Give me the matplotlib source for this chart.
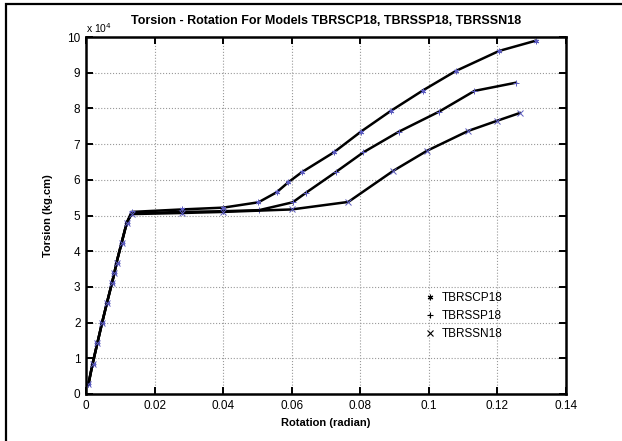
import matplotlib
matplotlib.use('Agg')
import matplotlib.pyplot as plt
from matplotlib.patches import Rectangle

plt.rcParams['font.family'] = ['Liberation Sans', 'DejaVu Sans']

# shared elastic branch (rotation in radian, torsion in 1e4 kg.cm)
rot_el = [0.0007, 0.0019, 0.0033, 0.0047, 0.0061, 0.0076, 0.0083, 0.0089, 0.0104, 0.0119]
tor_el = [0.27, 0.84, 1.42, 2.0, 2.55, 3.12, 3.40, 3.68, 4.24, 4.80]

rot_cp = rot_el + [0.0133, 0.028, 0.040, 0.0503, 0.0556, 0.059, 0.0629, 0.0723, 0.0802,
                   0.0889, 0.0982, 0.1079, 0.1205, 0.1313]
tor_cp = tor_el + [5.10, 5.17, 5.22, 5.37, 5.65, 5.93, 6.21, 6.77, 7.35,
                   7.93, 8.50, 9.05, 9.61, 9.90]

rot_sp = rot_el + [0.0133, 0.028, 0.040, 0.0505, 0.0603, 0.0642, 0.0729, 0.0809, 0.0913,
                   0.103, 0.1133, 0.1254]
tor_sp = tor_el + [5.06, 5.10, 5.12, 5.15, 5.37, 5.64, 6.22, 6.77, 7.35,
                   7.91, 8.49, 8.72]

rot_sn = rot_el + [0.0133, 0.028, 0.040, 0.060, 0.0765, 0.0896, 0.0994, 0.1115, 0.1198, 0.1265]
tor_sn = tor_el + [5.04, 5.07, 5.10, 5.17, 5.38, 6.25, 6.81, 7.37, 7.65, 7.87]

names = ['TBRSCP18', 'TBRSSP18', 'TBRSSN18']
marks = [(6, 2, 0), '+', 'x']   # asterisk, plus, cross

fig = plt.figure(figsize=(6.22, 4.41), dpi=100)
fig.patches.append(Rectangle((6/622, -0.1), 1.2, 1 - 4/441 + 0.1, transform=fig.transFigure,
                             fill=False, edgecolor='black', linewidth=1.6))
ax = fig.add_axes([86/622, 47/441, 480/622, 357/441])

for r, t, m in zip([rot_cp, rot_sp, rot_sn], [tor_cp, tor_sp, tor_sn], marks):
    ax.plot(r, t, color='black', linewidth=1.8)
    ax.plot(r, t, linestyle='none', marker=m, color='#5c5cc0', markersize=4, markeredgewidth=0.7)

# legend entries: markers only
for m, n in zip(marks, names):
    ax.plot([], [], linestyle='none', marker=m, color='black', markersize=4,
            markeredgewidth=0.8, label=n)
h, l = ax.get_legend_handles_labels()
ax.legend(h[-3:], l[-3:], loc='upper left', bbox_to_anchor=(0.685, 0.315), frameon=False,
          fontsize=8.5, handletextpad=0.6, labelspacing=0.5, handlelength=0.8)

ax.set_xlim(0, 0.14)
ax.set_ylim(0, 10)
ax.set_xticks([0, 0.02, 0.04, 0.06, 0.08, 0.1, 0.12, 0.14])
ax.set_xticklabels(['0', '0.02', '0.04', '0.06', '0.08', '0.1', '0.12', '0.14'])
ax.set_yticks(range(0, 11))
ax.tick_params(direction='in', top=True, right=True, length=5, width=1.4, labelsize=8.5, pad=4)
ax.grid(True, linestyle=':', color='#999999', linewidth=0.8)
for s in ax.spines.values():
    s.set_linewidth(1.8)

ax.text(0.0, 1.005, r'x 10$^4$', transform=ax.transAxes, fontsize=7.5, va='bottom', ha='left')
ax.set_title('Torsion - Rotation For Models TBRSCP18, TBRSSP18, TBRSSN18',
             fontsize=9, fontweight='bold', pad=9)
ax.set_xlabel('Rotation (radian)', fontsize=8, fontweight='bold', labelpad=5)
ax.set_ylabel('Torsion (kg.cm)', fontsize=8, fontweight='bold', labelpad=10)

fig.savefig('out.png', dpi=100)
